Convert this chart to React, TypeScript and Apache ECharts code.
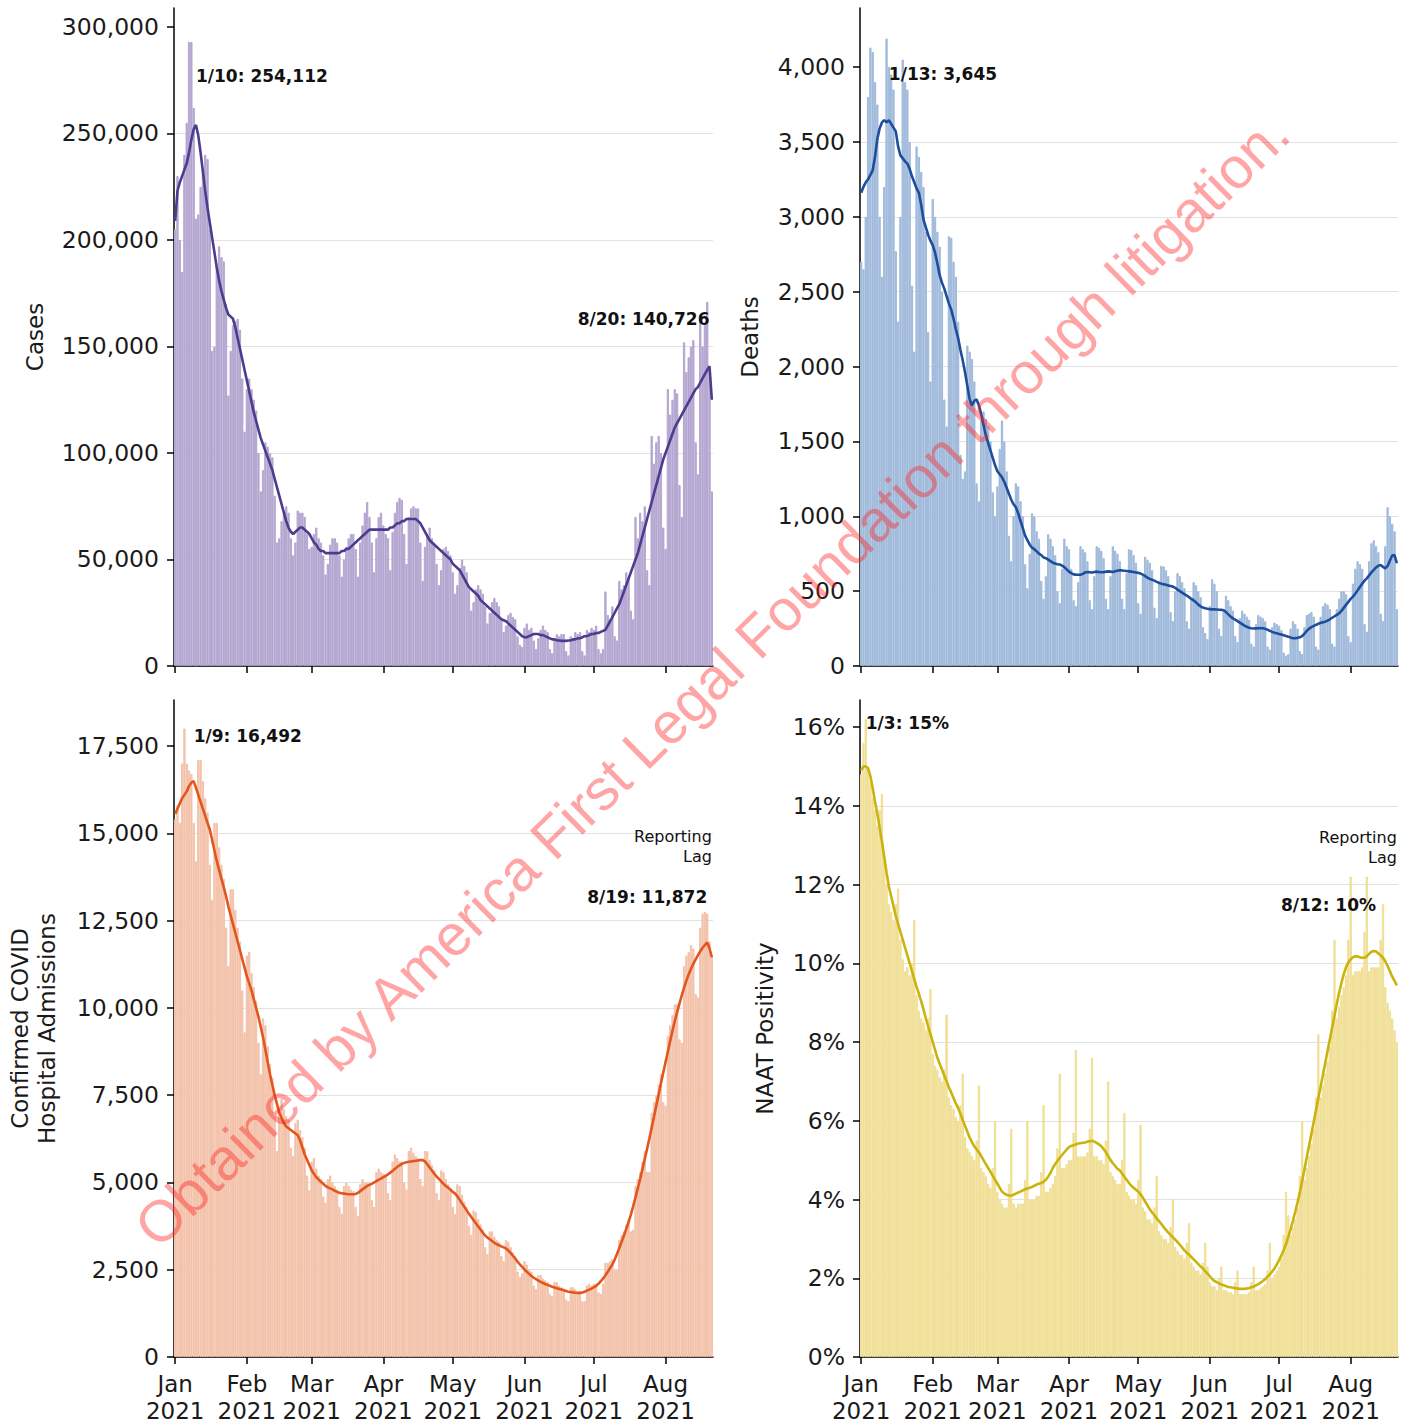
import React, { useEffect, useRef } from "react";
import * as echarts from "echarts";

// ---------- DATA ----------
const START_UTC = Date.UTC(2021, 0, 1);
const N_DAYS = 233; // 2021-01-01 .. 2021-08-21
const dates: string[] = Array.from({ length: N_DAYS }, (_, i) =>
  new Date(START_UTC + i * 86400000).toISOString().slice(0, 10)
);
const monthNames = ["Jan", "Feb", "Mar", "Apr", "May", "Jun", "Jul", "Aug"];
const yearLabel = "2021";

// Daily cases (thousands)
const casesBarsK = [
  205, 230, 200, 185, 240, 255, 293, 293, 262, 210,
  212, 225, 232, 240, 238, 205, 148, 150, 188, 197,
  192, 190, 170, 127, 148, 160, 162, 163, 158, 135,
  110, 130, 135, 130, 125, 120, 100, 82, 92, 105,
  103, 100, 98, 80, 58, 60, 68, 72, 75, 72,
  60, 52, 58, 73, 72, 72, 70, 62, 55, 56,
  62, 65, 60, 58, 52, 43, 48, 57, 60, 60,
  58, 52, 42, 50, 56, 60, 62, 62, 55, 42,
  58, 66, 72, 77, 70, 58, 44, 60, 70, 72,
  66, 62, 60, 45, 63, 72, 77, 79, 78, 62,
  48, 70, 74, 75, 74, 74, 58, 40, 56, 62,
  65, 60, 58, 48, 38, 45, 55, 56, 54, 52,
  44, 34, 38, 46, 50, 47, 44, 36, 26, 30,
  36, 38, 36, 34, 28, 20, 25, 30, 32, 30,
  28, 22, 16, 19, 24, 25, 23, 22, 14, 10,
  9, 18, 20, 17, 18, 12, 8, 13, 17, 19,
  17, 16, 8, 6, 13, 15, 14, 15, 15, 7,
  5, 14, 13, 16, 15, 16, 7, 5, 17, 16,
  18, 17, 19, 8, 6, 8, 35, 24, 22, 28,
  14, 12, 40, 36, 38, 44, 42, 26, 22, 70,
  60, 72, 68, 75, 45, 38, 108, 95, 105, 108,
  100, 65, 55, 130, 118, 125, 130, 128, 85, 70,
  152, 138, 145, 150, 153, 105, 90, 165, 150, 160,
  171, 140, 82,
];
const casesAvgK = [
  209, 223, 227, 230, 233, 236, 241, 247, 252, 254,
  249, 241, 232, 223, 215, 208, 201, 194, 187, 181,
  176, 172, 168, 165, 164, 163, 159, 154, 149, 144,
  139, 134, 129, 124, 119, 115, 111, 107, 104, 101,
  98, 95, 92, 88, 84, 80, 76, 72, 68, 65,
  63, 62, 63, 64, 65, 65, 64, 63, 62, 60,
  58, 57, 55, 54, 54, 53, 53, 53, 53, 53,
  53, 53, 54, 54, 55, 55, 56, 57, 58, 59,
  60, 61, 62, 63, 64, 64, 64, 64, 64, 64,
  64, 64, 64, 65, 65, 66, 67, 67, 68, 68,
  69, 69, 69, 69, 69, 68, 67, 65, 63, 61,
  59, 58, 57, 56, 55, 54, 53, 52, 51, 50,
  48, 47, 46, 45, 43, 41, 39, 37, 36, 35,
  34, 33, 31, 30, 29, 28, 27, 26, 25, 24,
  23, 22, 21.5, 21, 20, 19, 18, 17, 16, 15,
  14, 13.5, 13.5, 14, 14.5, 15, 15, 15, 14.5, 14.5,
  14, 13.5, 13, 12.5, 12.5, 12, 12, 11.8, 11.8, 11.8,
  12, 12, 12.5, 12.5, 13, 13, 13.5, 14, 14, 14.5,
  15, 15, 15.5, 15.5, 16, 16.5, 17, 19, 21, 23,
  25, 27, 29, 32, 35, 38, 41, 44, 47, 50,
  53, 57, 61, 65, 69, 73, 77, 81, 85, 89,
  93, 97, 100, 103, 106, 109, 112, 114, 116, 118,
  120, 122, 124, 126, 128, 130, 131, 133, 135, 137,
  139, 140.7, 125,
];

const deathsBars = [
  2700, 2650, 3000, 3800, 4130, 4100, 3900, 3750, 3000, 2600,
  3200, 4190, 4000, 3950, 3850, 2770, 2300, 3000, 4050, 3900,
  3850, 3500, 2540, 2100, 3470, 3400, 3300, 3200, 2900, 2230,
  1900, 3120, 3000, 2900, 2800, 2500, 1780, 1600, 2870, 2860,
  2700, 2600, 2300, 1410, 1250, 1300, 2140, 2100, 2050, 1900,
  1220, 1100, 1640, 1700, 1650, 1600, 1500, 1160, 1000, 1200,
  1450, 1640, 1500, 1300, 870, 700, 1000, 1220, 1200, 1100,
  1000, 680, 520, 750, 1020, 1000, 900, 850, 570, 450,
  600, 880, 850, 800, 740, 500, 420, 650, 850, 800,
  780, 650, 440, 400, 560, 800, 780, 760, 700, 440,
  380, 600, 800, 790, 770, 720, 450, 380, 600, 800,
  770, 750, 700, 450, 380, 620, 780, 775, 740, 690,
  420, 350, 600, 730, 710, 690, 640, 390, 320, 570,
  670, 665, 640, 600, 360, 300, 500, 620, 600, 560,
  520, 300, 250, 450, 560, 540, 500, 460, 260, 220,
  180, 400, 580, 550, 500, 250, 200, 380, 470, 440,
  400, 370, 200, 160, 320, 370, 350, 330, 310, 150,
  130, 280, 340, 330, 320, 300, 130, 110, 260, 290,
  280, 270, 240, 90, 70, 80, 250, 300, 280, 250,
  100, 80, 260, 340, 350, 360, 330, 130, 110, 330,
  400, 420, 410, 380, 150, 130, 380, 450, 500, 500,
  480, 200, 160, 550, 650, 700, 680, 650, 280, 230,
  700, 820, 840, 800, 760, 350, 300, 800, 1060, 1000,
  950, 900, 380,
];
const deathsAvg = [
  3160, 3200, 3230, 3250, 3280, 3310, 3400, 3520, 3590, 3630,
  3645, 3630, 3645, 3620, 3595, 3570, 3470, 3410, 3390, 3370,
  3355, 3320, 3270, 3230, 3190, 3160, 3080, 2980, 2930, 2880,
  2840, 2810, 2760, 2690, 2610, 2560, 2520, 2470, 2420, 2380,
  2320, 2250, 2190, 2110, 2040, 1960, 1870, 1780, 1740, 1770,
  1780, 1740, 1680, 1610, 1540, 1490, 1440, 1390, 1340, 1300,
  1280, 1260, 1230, 1190, 1150, 1110, 1080, 1060, 1020, 970,
  920, 870, 840, 810, 790, 780, 765, 750, 740, 725,
  720, 710, 700, 690, 685, 680, 678, 670, 660, 645,
  630, 620, 612, 610, 609, 609, 615, 625, 628, 626,
  624, 628, 630, 628, 626, 627, 630, 632, 630, 628,
  632, 636, 640, 638, 636, 634, 632, 630, 628, 625,
  622, 617, 610, 600, 590, 582, 576, 570, 562, 555,
  550, 546, 542, 538, 534, 530, 522, 510, 500, 490,
  480, 470, 460, 448, 438, 425, 410, 398, 390, 385,
  382, 380, 378, 378, 377, 376, 375, 372, 360, 345,
  330, 318, 310, 300, 290, 280, 270, 262, 256, 252,
  250, 251, 252, 253, 252, 248, 242, 235, 228, 222,
  218, 214, 210, 205, 200, 196, 190, 185, 186, 188,
  192, 200, 215, 235, 250, 260, 268, 275, 282, 288,
  292, 296, 303, 312, 322, 332, 342, 352, 368, 388,
  408, 428, 448, 463, 483, 505, 528, 550, 570, 585,
  605, 625, 642, 658, 670, 674, 662, 652, 668, 705,
  738, 741, 686,
];

const admitBars = [
  15400, 15800, 15300, 17000, 18000, 17000, 16800, 16700, 15300, 14200,
  17100, 17100, 16500, 16000, 15600, 14100, 13100, 15300, 15300, 14600,
  14100, 13700, 12300, 11200, 13400, 13400, 12800, 12300, 11900, 10500,
  9300, 11500, 11600, 11000, 10600, 10200, 9000, 8100, 9700, 9500,
  8900, 8400, 8000, 6900, 5900, 7100, 7400, 7100, 6900, 6800,
  6000, 5760, 6700, 6800, 6500, 6300, 6000, 5200, 4780, 5600,
  5700, 5400, 5200, 5100, 4600, 4420, 5100, 5200, 5000, 4900,
  4800, 4300, 4110, 4900, 5000, 4900, 4800, 4750, 4300, 4050,
  4950, 5100, 5000, 5000, 5000, 4500, 4300, 5300, 5400, 5300,
  5250, 5200, 4700, 4500, 5600, 5800, 5700, 5600, 5600, 5000,
  4800, 5900, 6000, 5850, 5750, 5700, 5100, 4900, 5900, 5900,
  5650, 5500, 5350, 4700, 4500, 5350, 5300, 5100, 4950, 4850,
  4300, 4100, 4950, 4900, 4650, 4450, 4300, 3750, 3500, 4200,
  4150, 3950, 3800, 3650, 3150, 2950, 3600, 3600, 3450, 3350,
  3300, 2900, 2750, 3350, 3300, 3150, 3000, 2900, 2450, 2300,
  2400, 2750, 2650, 2500, 2450, 2050, 1950, 2350, 2350, 2250,
  2200, 2150, 1800, 1750, 2150, 2150, 2050, 2000, 1950, 1650,
  1600, 2000, 2000, 1950, 1900, 1900, 1600, 1600, 2050, 2100,
  2050, 2100, 2100, 1850, 1800, 2100, 2700, 2700, 2750, 2800,
  2500, 2500, 3350, 3500, 3600, 3800, 3950, 3600, 3650, 4900,
  5100, 5300, 5600, 5900, 5300, 5300, 7000, 7300, 7500, 7800,
  8100, 7300, 7200, 9200, 9500, 9800, 10100, 10100, 9100, 9000,
  11200, 11500, 11600, 11800, 11700, 10400, 10300, 12300, 12700, 12750,
  12700, 11900, 11500,
];
const admitAvg = [
  15550, 15700, 15850, 16000, 16100, 16200, 16350, 16450, 16492, 16300,
  16100, 15900, 15700, 15500, 15300, 15100, 14800, 14500, 14200, 13950,
  13700, 13450, 13200, 12900, 12650, 12400, 12150, 11900, 11650, 11400,
  11150, 10900, 10700, 10500, 10250, 10000, 9750, 9450, 9150, 8800,
  8450, 8100, 7800, 7500, 7250, 7000, 6850, 6700, 6600, 6550,
  6500, 6450, 6400, 6350, 6200, 6000, 5800, 5650, 5500, 5350,
  5250, 5150, 5080, 5020, 4960, 4900, 4860, 4830, 4800, 4760,
  4730, 4700, 4690, 4680, 4670, 4660, 4660, 4660, 4670, 4700,
  4750, 4800, 4850, 4900, 4930, 4960, 5000, 5040, 5080, 5110,
  5150, 5190, 5230, 5280, 5330, 5390, 5440, 5490, 5530, 5560,
  5580, 5590, 5600, 5610, 5620, 5630, 5640, 5640, 5600, 5520,
  5430, 5340, 5250, 5170, 5100, 5030, 4960, 4900, 4850, 4790,
  4730, 4680, 4600, 4500, 4400, 4300, 4200, 4100, 4010, 3920,
  3830, 3740, 3650, 3560, 3480, 3420, 3370, 3320, 3270, 3230,
  3200, 3170, 3140, 3110, 3050, 2980, 2900, 2820, 2730, 2650,
  2580, 2510, 2440, 2380, 2320, 2270, 2230, 2190, 2150, 2120,
  2090, 2060, 2040, 2010, 1990, 1970, 1950, 1930, 1910, 1890,
  1870, 1860, 1850, 1840, 1835, 1836, 1850, 1870, 1900, 1930,
  1960, 2000, 2040, 2100, 2170, 2250, 2340, 2440, 2550, 2650,
  2790, 2950, 3120, 3300, 3480, 3670, 3860, 4080, 4320, 4570,
  4830, 5100, 5380, 5670, 5960, 6260, 6570, 6880, 7200, 7520,
  7840, 8150, 8450, 8750, 9050, 9350, 9620, 9880, 10120, 10360,
  10580, 10780, 10960, 11120, 11260, 11390, 11510, 11620, 11720, 11800,
  11872, 11700, 11450,
];

const naatBars = [
  14.8, 15.6, 16.2, 15.0, 14.6, 14.2, 13.9, 13.5, 13.9, 14.3,
  12.6, 12.0, 11.5, 11.3, 11.1, 11.5, 11.9, 10.6, 10.1, 9.8,
  9.9, 9.7, 10.0, 11.1, 9.2, 8.8, 8.6, 8.5, 8.3, 8.6,
  9.35, 7.7, 7.4, 7.3, 7.1, 7.0, 7.3, 8.7, 6.6, 6.4,
  6.3, 6.1, 6.0, 6.4, 7.2, 5.6, 5.3, 5.2, 5.1, 5.0,
  5.5, 6.9, 4.8, 4.7, 4.6, 4.4, 4.3, 4.8, 6.0, 4.2,
  4.0, 3.9, 3.8, 3.8, 4.4, 5.8, 3.9, 3.8, 3.9, 3.9,
  3.9, 4.5, 6.0, 4.0, 4.0, 4.0, 4.1, 4.1, 4.7, 6.4,
  4.2, 4.2, 4.3, 4.4, 4.6, 5.3, 7.2, 4.8, 4.8, 4.9,
  5.0, 5.0, 5.7, 7.8, 5.1, 5.1, 5.1, 5.1, 5.2, 5.8,
  7.6, 5.1, 5.1, 5.0, 5.0, 4.9, 5.5, 7.0, 4.7, 4.6,
  4.5, 4.4, 4.4, 5.0, 6.2, 4.2, 4.1, 4.0, 4.0, 3.9,
  4.5, 5.9, 3.8, 3.7, 3.5, 3.5, 3.4, 3.8, 4.6, 3.2,
  3.1, 3.0, 3.0, 2.9, 3.3, 4.0, 2.8, 2.7, 2.6, 2.6,
  2.5, 2.9, 3.4, 2.4, 2.3, 2.2, 2.2, 2.1, 2.4, 2.9,
  2.3, 1.9, 1.8, 1.8, 1.7, 2.0, 2.3, 1.7, 1.7, 1.65,
  1.65, 1.6, 1.9, 2.2, 1.6, 1.6, 1.6, 1.6, 1.65, 1.9,
  2.3, 1.7, 1.7, 1.75, 1.8, 1.85, 2.2, 2.9, 2.0, 2.1,
  2.2, 2.3, 2.5, 3.1, 4.2, 3.6, 3.1, 3.3, 3.5, 3.8,
  4.6, 6.0, 4.5, 4.8, 5.1, 5.4, 5.8, 6.6, 8.2, 6.6,
  6.9, 7.2, 7.5, 7.9, 8.8, 10.6, 8.6, 8.9, 9.2, 9.4,
  9.7, 10.6, 12.2, 9.7, 9.8, 9.8, 9.8, 9.9, 10.8, 12.2,
  9.8, 9.9, 9.9, 9.9, 9.9, 10.6, 11.5, 9.4, 9.0, 8.8,
  8.6, 8.3, 8.0,
];
const naatAvg = [
  14.9, 15.0, 15.0, 14.95, 14.75, 14.45, 14.1, 13.8, 13.45, 13.1,
  12.7, 12.3, 11.95, 11.7, 11.45, 11.2, 11.0, 10.8, 10.6, 10.4,
  10.2, 10.0, 9.8, 9.6, 9.4, 9.23, 9.03, 8.83, 8.6, 8.4,
  8.2, 8.0, 7.8, 7.6, 7.45, 7.3, 7.15, 7.0, 6.85, 6.72,
  6.58, 6.44, 6.32, 6.18, 6.02, 5.87, 5.72, 5.57, 5.45, 5.35,
  5.27, 5.2, 5.1, 5.0, 4.9, 4.8, 4.7, 4.6, 4.5, 4.4,
  4.3, 4.2, 4.15, 4.12, 4.1, 4.1, 4.12, 4.15, 4.18, 4.2,
  4.23, 4.26, 4.28, 4.3, 4.32, 4.35, 4.38, 4.4, 4.42, 4.45,
  4.5, 4.58, 4.68, 4.8, 4.9, 4.98, 5.06, 5.13, 5.2, 5.27,
  5.33, 5.36, 5.38, 5.4, 5.42, 5.43, 5.44, 5.45, 5.47, 5.48,
  5.49, 5.47, 5.44, 5.4, 5.35, 5.28, 5.2, 5.1, 5.0, 4.92,
  4.85, 4.78, 4.74, 4.66, 4.58, 4.5, 4.42, 4.35, 4.3, 4.25,
  4.2, 4.13, 4.05, 3.95, 3.85, 3.75, 3.67, 3.6, 3.52, 3.45,
  3.38, 3.3, 3.23, 3.16, 3.1, 3.04, 2.98, 2.92, 2.85, 2.78,
  2.71, 2.65, 2.6, 2.54, 2.48, 2.42, 2.36, 2.3, 2.25, 2.18,
  2.12, 2.05, 1.98, 1.93, 1.9, 1.87, 1.84, 1.82, 1.8, 1.78,
  1.77, 1.76, 1.75, 1.74, 1.73, 1.73, 1.73, 1.74, 1.75, 1.77,
  1.79, 1.82, 1.85, 1.89, 1.93, 1.98, 2.04, 2.1, 2.17, 2.25,
  2.35, 2.46, 2.58, 2.72, 2.87, 3.05, 3.25, 3.46, 3.69, 3.93,
  4.18, 4.47, 4.77, 5.07, 5.37, 5.67, 5.97, 6.27, 6.57, 6.87,
  7.17, 7.47, 7.77, 8.07, 8.37, 8.67, 8.97, 9.25, 9.5, 9.72,
  9.9, 10.02, 10.1, 10.15, 10.18, 10.17, 10.15, 10.14, 10.14, 10.18,
  10.24, 10.29, 10.31, 10.3, 10.25, 10.2, 10.14, 10.05, 9.93, 9.8,
  9.66, 9.55, 9.44,
];

// Tick values
const casesTicks = [0, 50000, 100000, 150000, 200000, 250000, 300000];
const deathsTicks = [0, 500, 1000, 1500, 2000, 2500, 3000, 3500, 4000];
const admitTicks = [0, 2500, 5000, 7500, 10000, 12500, 15000, 17500];
const naatTicks = [0, 2, 4, 6, 8, 10, 12, 14, 16];

// Annotations: [day index, y value, text]
const casesNotes = [
  { day: 9, y: 276900, text: "1/10: 254,112", align: "left", bold: true },
  { day: 231, y: 162900, text: "8/20: 140,726", align: "right", bold: true },
];
const deathsNotes = [{ day: 12, y: 3953, text: "1/13: 3,645", align: "left", bold: true }];
const admitNotes = [
  { day: 8, y: 17786, text: "1/9: 16,492", align: "left", bold: true },
  { day: 230, y: 13175, text: "8/19: 11,872", align: "right", bold: true },
  { day: 232, y: 14630, text: "Reporting\nLag", align: "right", bold: false },
];
const naatNotes = [
  { day: 2, y: 16.1, text: "1/3: 15%", align: "left", bold: true },
  { day: 223, y: 11.48, text: "8/12: 10%", align: "right", bold: true },
  { day: 232, y: 12.93, text: "Reporting\nLag", align: "right", bold: false },
];

const WATERMARK = "Obtained by America First Legal Foundation through litigation.";

// ---------- CHART ----------
const FONT = "DejaVu Sans";
const TXT = "#1a1a1a";

const isMonthStart = (_i: number, v: string) => v.slice(8) === "01";
const fmtMonth = (v: string) => monthNames[parseInt(v.slice(5, 7), 10) - 1] + "\n" + yearLabel;
const fmtThousands = (v: number) => Math.round(v).toLocaleString("en-US");

function buildOption() {
  const grids = [
    { left: 174, top: 8, width: 539, height: 658 },
    { left: 860, top: 8, width: 538, height: 658 },
    { left: 174, top: 700, width: 539, height: 657 },
    { left: 860, top: 700, width: 538, height: 657 },
  ];
  const panels = [
    {
      bars: casesBarsK.map((v) => v * 1000),
      avg: casesAvgK.map((v) => v * 1000),
      barColor: "#b4a6d0",
      lineColor: "#4b3c8e",
      max: 308900, interval: 50000, ticks: casesTicks,
      fmt: fmtThousands, name: "Cases", nameGap: 126, notes: casesNotes,
      bottom: false,
    },
    {
      bars: deathsBars, avg: deathsAvg,
      barColor: "#a0badb", lineColor: "#1c4e9c",
      max: 4394, interval: 500, ticks: deathsTicks,
      fmt: fmtThousands, name: "Deaths", nameGap: 97, notes: deathsNotes,
      bottom: false,
    },
    {
      bars: admitBars, avg: admitAvg,
      barColor: "#f3c2aa", lineColor: "#e2561e",
      max: 18817, interval: 2500, ticks: admitTicks,
      fmt: fmtThousands, name: "Confirmed COVID\nHospital Admissions", nameGap: 114, notes: admitNotes,
      bottom: true,
    },
    {
      bars: naatBars, avg: naatAvg,
      barColor: "#f0df96", lineColor: "#c9b30c",
      max: 16.686, interval: 2, ticks: naatTicks,
      fmt: (v: number) => `${Math.round(v)}%`, name: "NAAT Positivity", nameGap: 82, notes: naatNotes,
      bottom: true,
    },
  ];

  const xAxis = panels.map((p, i) => ({
    type: "category",
    gridIndex: i,
    data: dates,
    boundaryGap: true,
    axisLine: { show: true, lineStyle: { color: "#000", width: 1.5 } },
    axisTick: {
      show: true,
      alignWithLabel: true,
      interval: isMonthStart,
      length: 7,
      lineStyle: { color: "#000", width: 1.5 },
    },
    axisLabel: {
      show: p.bottom,
      interval: isMonthStart,
      formatter: fmtMonth,
      fontFamily: FONT,
      fontSize: 23,
      lineHeight: 27,
      color: TXT,
      margin: 13,
    },
    splitLine: { show: false },
  }));

  const yAxis = panels.map((p, i) => ({
    type: "value",
    gridIndex: i,
    min: 0,
    max: p.max,
    interval: p.interval,
    axisLine: { show: true, lineStyle: { color: "#000", width: 1.5 } },
    axisTick: {
      show: true,
      length: 7,
      lineStyle: { color: "#000", width: 1.5 },
      customValues: p.ticks,
    },
    axisLabel: {
      fontFamily: FONT,
      fontSize: 23.5,
      color: TXT,
      margin: 15,
      customValues: p.ticks,
      formatter: p.fmt,
    },
    splitLine: {
      show: true,
      showMaxLine: false,
      lineStyle: { color: "#e2e2e2", width: 1 },
    },
    name: p.name,
    nameLocation: "middle",
    nameGap: p.nameGap,
    nameTextStyle: { fontFamily: FONT, fontSize: 23, color: TXT, lineHeight: 27 },
  }));

  const series: any[] = [];
  panels.forEach((p, i) => {
    series.push({
      type: "bar",
      xAxisIndex: i,
      yAxisIndex: i,
      data: p.bars,
      barCategoryGap: "0%",
      itemStyle: { color: p.barColor, borderColor: p.barColor, borderWidth: 1 },
      silent: true,
      z: 2,
    });
    series.push({
      type: "line",
      xAxisIndex: i,
      yAxisIndex: i,
      data: p.avg,
      showSymbol: false,
      symbol: "none",
      lineStyle: { color: p.lineColor, width: 2.6 },
      itemStyle: { color: p.lineColor },
      silent: true,
      z: 3,
      markPoint: {
        silent: true,
        symbol: "circle",
        symbolSize: 1,
        itemStyle: { color: "rgba(0,0,0,0)" },
        data: p.notes.map((n) => ({
          coord: [dates[n.day], n.y],
          label: {
            show: true,
            position: "inside",
            formatter: n.text,
            align: n.align,
            verticalAlign: "middle",
            fontFamily: FONT,
            fontSize: n.bold ? 17 : 16,
            fontWeight: n.bold ? "bold" : "normal",
            lineHeight: 20,
            color: "#111",
          },
        })),
      },
    });
  });

  return {
    animation: false,
    backgroundColor: "#ffffff",
    grid: grids,
    xAxis,
    yAxis,
    series,
    graphic: [
      {
        type: "text",
        x: 712,
        y: 680,
        rotation: 0.775,
        z: 100,
        silent: true,
        style: {
          text: WATERMARK,
          fontFamily: "Liberation Sans",
          fontSize: 58,
          fill: "rgba(255, 30, 30, 0.40)",
          align: "center",
          verticalAlign: "middle",
        },
      },
    ],
  };
}

export default function App() {
  const ref = useRef<HTMLDivElement>(null);
  useEffect(() => {
    document.body.style.margin = "0";
    if (!ref.current) return;
    const chart = echarts.init(ref.current, undefined, { renderer: "svg" });
    chart.setOption(buildOption() as any);
    return () => chart.dispose();
  }, []);
  return (
    <div
      ref={ref}
      style={{ position: "absolute", left: 0, top: 0, width: 1401, height: 1426, background: "#fff" }}
    />
  );
}
